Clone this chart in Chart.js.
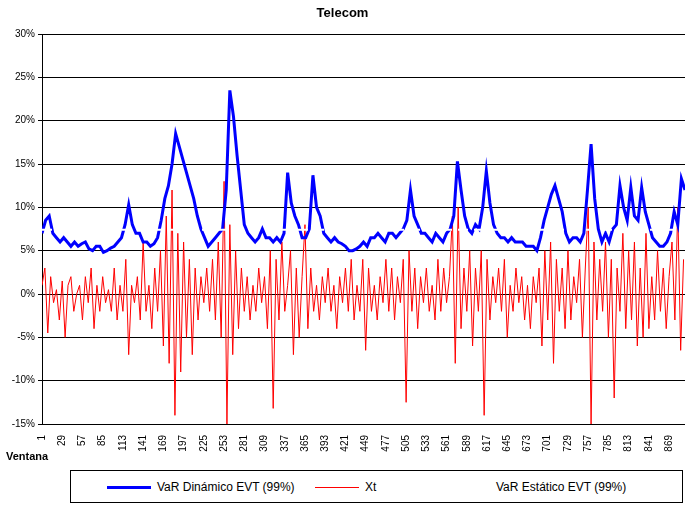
<!DOCTYPE html>
<html><head><meta charset="utf-8">
<script src="https://cdn.jsdelivr.net/npm/chart.js@4"></script>
<style>
body{margin:0;background:#fff;font-family:"Liberation Sans",Arial,sans-serif;}
#wrap{position:relative;width:685px;height:505px;}
#title{position:absolute;top:5px;left:0;width:685px;text-align:center;font-weight:bold;font-size:13px;}
#vent{position:absolute;left:6px;top:450px;font-weight:bold;font-size:11px;}
#legend{position:absolute;left:70px;top:470px;width:613px;height:33px;border:1px solid #000;box-sizing:border-box;font-size:12px;}
.it{position:absolute;top:9px;}
.ln{display:inline-block;vertical-align:middle;width:44px;margin-right:6px;}
</style></head><body>
<div id="wrap">
<canvas id="c" width="685" height="460" style="position:absolute;left:0;top:0"></canvas>
<div id="title">Telecom</div>
<div id="vent">Ventana</div>
<div id="legend">
 <span class="it" style="left:36px"><span class="ln" style="border-top:3px solid #0000ff"></span>VaR Dinámico EVT (99%)</span>
 <span class="it" style="left:244px"><span class="ln" style="border-top:1px solid #ff0000"></span>Xt</span>
 <span class="it" style="left:375px"><span class="ln" style="border-top:2px dashed #fff"></span>VaR Estático EVT (99%)</span>
</div>
</div>
<script>
// ── data (percent) ──
const xTicks = [1,29,57,85,113,141,169,197,225,253,281,309,337,365,393,421,449,477,505,533,561,589,617,645,673,701,729,757,785,813,841,869];
const varDinStep = 5;   // VaR dinámico sampled every 5 windows starting at 1
const varDin = [7,8.5,9,7,6.5,6,6.5,6,5.5,6,5.5,5.8,6,5.2,5,5.5,5.5,4.8,5,5.3,5.5,6,6.5,8,10.3,8,7,7,6,6,5.5,5.8,6.5,8.5,11,12.5,15,18.5,17,15.5,14,12.5,11,9,7.5,6.5,5.5,6,6.5,7,7.5,12,23.5,20.5,16,12,8,7,6.5,6,6.5,7.5,6.5,6.5,6,6.5,6,7,14,10.5,9,8,6.5,6.5,7.5,13.7,10,9,7,6.5,6,6.5,6,5.8,5.5,5,5,5.2,5.5,6,5.5,6.5,6.5,7,6.5,6,7,7,6.5,7,7.5,8.5,12,9,8,7,7,6.5,6,7,6.5,6,7,7.5,9,15.3,12,9,7.5,7,8,7.5,10,14.2,10.5,8,7,6.5,6.5,6,6.5,6,6,6,5.5,5.5,5.5,5,6.5,8.5,10,11.5,12.5,11,9.5,7,6,6.5,6.5,6,7,12,17.3,11,7.5,6,7,6,7.5,8,12.5,10,8.5,12.3,9,8.5,12.3,9.5,8,6.5,6,5.5,5.5,6,7,9.5,8,13.3,12];
const xtStep = 4;       // Xt sampled every 4 windows starting at 1
const xt = [1,3,-4.5,2,-1,0.5,-3,1.5,-5,1,2,-2,0,1,-3,2,-1,3,-4,1,-2,2,-1,0.5,-2,
 3,-3,1,-2,4,-7,1,-1,2,-3,6,-2,1,-4,3,
 -2,5,-6,9,-8,12,-14,7,-9,6,-5,4,-7,3,-3,2,
 -1,3,-2,4,-3,6,-5,13,-15,8,-7,5,-4,3,-2,
 2,-3,1,-2,3,-1,2,-4,5,-13.2,4,-3,6,-2,1,5,-7,3,-5,2,
 8,-4,3,-2,1,-3,2,-1,3,-2,1,-4,2,-1,3,-2,4,-3,1,-2,
 4,-6.5,3,-2,1,-3,2,-1,4,-2,3,-3,2,-1,4,-12.5,5,-2,3,-4,
 2,-1,3,-2,1,-3,4,-2,3,-1,2,9,-8,10,-4,3,-2,5,-6,3,
 -2,5,-14,4,-3,2,-1,3,-2,4,-5,1,-2,3,-1,2,-3,1,-4,2,
 -1,3,-6,5,-3,6,-8,4,-2,3,-4,5,-3,2,-1,4,-5,3,10,-15,
 6,-3,4,-2,6,-5,4,-12,3,-2,7,-4,5,-3,6,-6,3,-5,7,-4,
 2,-3,5,-2,3,-4,2,6,-3,10,-6.5,4];
const varEst = 7.4;
const lastWindow = 891;

const toPts = (arr, step) => arr.map((v, i) => ({ x: 1 + i * step, y: v }));

new Chart(document.getElementById('c'), {
  type: 'line',
  data: { datasets: [
    { label: 'Xt', data: toPts(xt, xtStep), borderColor: '#ff0000', borderWidth: 1, pointRadius: 0, order: 2 },
    { label: 'VaR Dinámico EVT (99%)', data: toPts(varDin, varDinStep), borderColor: '#0000ff', borderWidth: 3, pointRadius: 0, order: 1 },
    { label: 'VaR Estático EVT (99%)', data: [{x:1,y:varEst},{x:lastWindow,y:varEst}], borderColor: '#ffffff', borderWidth: 2, borderDash: [10,6], pointRadius: 0, order: 0 }
  ]},
  options: {
    responsive: false, animation: false,
    layout: { padding: { top: 34, right: 0 } },
    plugins: { legend: { display: false }, tooltip: { enabled: false } },
    scales: {
      x: { type: 'linear', min: 1, max: lastWindow,
        afterBuildTicks: a => { a.ticks = xTicks.map(v => ({ value: v })); },
        afterFit: a => { a.height = 36; },
        grid: { display: false }, border: { color: '#000' },
        ticks: { maxRotation: 90, minRotation: 90, autoSkip: false, color: '#000', font: { size: 10, family: 'Liberation Sans' } } },
      y: { min: -15, max: 30,
        afterFit: a => { a.width = 42; },
        ticks: { stepSize: 5, color: '#000', callback: v => v + '%', font: { size: 10, family: 'Liberation Sans' } },
        grid: { color: '#000', drawTicks: true, tickLength: 4 }, border: { color: '#000' } }
    }
  }
});
</script>
</body></html>
